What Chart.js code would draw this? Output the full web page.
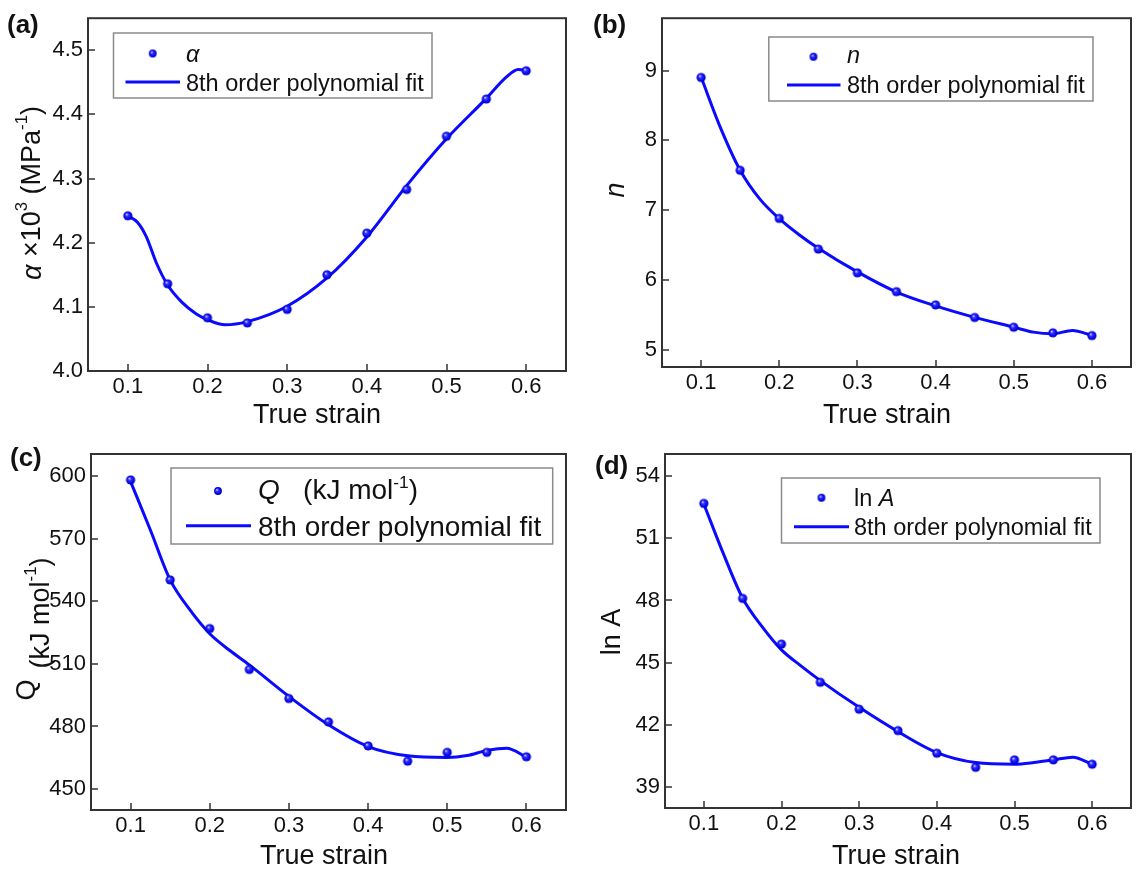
<!DOCTYPE html>
<html>
<head>
<meta charset="utf-8">
<script src="https://cdn.jsdelivr.net/npm/chart.js@4.4.0/dist/chart.umd.min.js"></script>
<style>
  body { margin: 0; background: #fff; }
  #wrap { position: relative; width: 1137px; height: 869px; }
  canvas { position: absolute; }
</style>
</head>
<body>
<div id="wrap">
  <canvas id="chartA" width="572" height="430" style="left:0;top:0"></canvas>
  <canvas id="chartB" width="565" height="430" style="left:572px;top:0"></canvas>
  <canvas id="chartC" width="572" height="439" style="left:0;top:430px"></canvas>
  <canvas id="chartD" width="565" height="439" style="left:572px;top:430px"></canvas>
</div>
<script>
// measured points
const strain = [0.1, 0.15, 0.2, 0.25, 0.3, 0.35, 0.4, 0.45, 0.5, 0.55, 0.6];
const alphaPts = [4.242, 4.136, 4.083, 4.075, 4.096, 4.150, 4.215, 4.283, 4.366, 4.424, 4.468];
const nPts = [8.90, 7.57, 6.88, 6.44, 6.10, 5.83, 5.64, 5.46, 5.32, 5.24, 5.20];
const qPts = [598.1, 550.2, 526.9, 507.3, 493.4, 482.2, 470.7, 463.4, 467.6, 467.6, 465.5];
const lnAPts = [52.68, 48.1, 45.9, 44.06, 42.76, 41.73, 40.64, 39.96, 40.32, 40.32, 40.11];

// fit curves
const fitStrain = [0.1, 0.125, 0.15, 0.175, 0.2, 0.225, 0.25, 0.3, 0.35, 0.4, 0.45, 0.5, 0.525, 0.55, 0.575, 0.6];
const nFit = [8.906, 8.175, 7.571, 7.16, 6.877, 6.65, 6.453, 6.113, 5.825, 5.627, 5.462, 5.321, 5.25, 5.226, 5.274, 5.203];
const qFit = [597.3, 574.1, 550.2, 535.8, 524.4, 516.5, 509.5, 494.4, 480.8, 470.4, 466.0, 465.2, 466.1, 468.5, 469.6, 465.3];
const lnAFit = [52.65, 50.27, 48.11, 46.74, 45.62, 44.85, 44.14, 42.85, 41.68, 40.67, 40.19, 40.11, 40.19, 40.32, 40.45, 40.11];
// panel (a) needs a few more points near the start
const alphaFitStrain = [0.1, 0.112, 0.123, 0.136, 0.15, 0.168, 0.186, 0.2, 0.222, 0.25, 0.3, 0.35, 0.4, 0.45, 0.5, 0.55, 0.575, 0.59, 0.6];
const alphaFit = [4.242, 4.232, 4.210, 4.168, 4.134, 4.107, 4.089, 4.080, 4.072, 4.077, 4.101, 4.145, 4.209, 4.289, 4.362, 4.425, 4.458, 4.470, 4.469];

// tick labels
const xTicks = [0.1, 0.2, 0.3, 0.4, 0.5, 0.6];
const alphaTicks = [4.0, 4.1, 4.2, 4.3, 4.4, 4.5];
const nTicks = [5, 6, 7, 8, 9];
const qTicks = [450, 480, 510, 540, 570, 600];
const lnATicks = [39, 42, 45, 48, 51, 54];

const FONT = '"Liberation Sans", Arial, sans-serif';
const BLUE = '#0a0aff';

function makeBall(r) {
    const c = document.createElement('canvas');
    const s = Math.ceil(r * 2) + 2;
    c.width = c.height = s;
    const g = c.getContext('2d');
    const cx = s / 2, cy = s / 2;
    const grad = g.createRadialGradient(cx - r * 0.3, cy - r * 0.35, 0, cx, cy, r);
    grad.addColorStop(0, '#eeeeff');
    grad.addColorStop(0.35, '#3535ff');
    grad.addColorStop(0.8, '#0000f0');
    grad.addColorStop(1, '#0000a0');
    g.fillStyle = grad;
    g.beginPath();
    g.arc(cx, cy, r, 0, Math.PI * 2);
    g.fill();
    return c;
}
const ball = makeBall(4.6);
const smallBall = makeBall(3.9);

// draw text pieces: '' normal, 'i' italic, 's' superscript, 'b' bold
function drawRuns(ctx, parts, x, y, size, align) {
    let w = 0;
    const items = parts.map(([t, st]) => {
        const fs = st === 's' ? size * 0.62 : size;
        const font = (st === 'i' ? 'italic ' : st === 'b' ? 'bold ' : '') + fs + 'px ' + FONT;
        ctx.font = font;
        const tw = ctx.measureText(t).width;
        w += tw;
        return { t, font, tw, dy: st === 's' ? -size * 0.4 : 0 };
    });
    let cx = align === 'center' ? x - w / 2 : x;
    items.forEach(it => {
        ctx.font = it.font;
        ctx.fillText(it.t, cx, y + it.dy);
        cx += it.tw;
    });
}

const decor = {
    id: 'decor',
    afterDraw(chart, args, o) {
        const ctx = chart.ctx, a = chart.chartArea;
        const xs = chart.scales.x, ys = chart.scales.y;
        ctx.save();
        ctx.strokeStyle = '#333';
        ctx.lineWidth = 2;
        ctx.strokeRect(a.left, a.top, a.right - a.left, a.bottom - a.top);
        ctx.lineWidth = 1.5;
        ctx.beginPath();
        xTicks.forEach(v => {
            const px = Math.round(xs.getPixelForValue(v));
            ctx.moveTo(px, a.bottom);
            ctx.lineTo(px, a.bottom - 7);
        });
        o.yTicks.forEach(v => {
            const py = Math.round(ys.getPixelForValue(v));
            ctx.moveTo(a.left, py);
            ctx.lineTo(a.left + 7, py);
        });
        ctx.stroke();

        // legend
        const L = o.legend;
        ctx.fillStyle = '#fff';
        ctx.fillRect(L.box[0], L.box[1], L.box[2], L.box[3]);
        ctx.strokeStyle = '#8a8a8a';
        ctx.lineWidth = 1.5;
        ctx.strokeRect(L.box[0], L.box[1], L.box[2], L.box[3]);
        ctx.drawImage(smallBall, L.marker[0] - smallBall.width / 2, L.marker[1] - smallBall.height / 2);
        ctx.strokeStyle = BLUE;
        ctx.lineWidth = 3;
        ctx.beginPath();
        ctx.moveTo(L.line[0], L.line[2]);
        ctx.lineTo(L.line[1], L.line[2]);
        ctx.stroke();
        ctx.fillStyle = '#111';
        ctx.textBaseline = 'alphabetic';
        ctx.textAlign = 'left';
        drawRuns(ctx, L.text1, L.t1[0], L.t1[1], L.size, 'left');
        drawRuns(ctx, [['8th order polynomial fit', '']], L.t2[0], L.t2[1], L.size, 'left');

        // panel label
        drawRuns(ctx, [[o.label.text, 'b']], o.label.x, o.label.y, 26, 'left');

        // x title
        drawRuns(ctx, [['True strain', '']], o.xTitle[0], o.xTitle[1], 27, 'center');

        // y titles (rotated)
        ctx.textBaseline = 'middle';
        o.yTitles.forEach(t => {
            ctx.save();
            ctx.translate(t.x, t.y);
            ctx.rotate(-Math.PI / 2);
            drawRuns(ctx, t.parts, 0, 0, 27, 'center');
            ctx.restore();
        });
        ctx.restore();
    }
};

function pairs(xs, ys) {
    return xs.map((x, i) => ({ x, y: ys[i] }));
}

function makePanel(p) {
    new Chart(document.getElementById(p.canvas), {
        type: 'line',
        data: {
            datasets: [
                {
                    data: pairs(p.fitX, p.fit),
                    borderColor: BLUE,
                    borderWidth: 3,
                    pointRadius: 0,
                    cubicInterpolationMode: 'monotone',
                    order: 2
                },
                {
                    data: pairs(strain, p.pts),
                    showLine: false,
                    pointStyle: ball,
                    pointRadius: 5,
                    order: 1
                }
            ]
        },
        options: {
            responsive: false,
            animation: false,
            layout: { padding: { top: p.pad[0], right: p.pad[1], left: 0, bottom: 0 } },
            plugins: {
                legend: { display: false },
                tooltip: { enabled: false },
                decor: p
            },
            scales: {
                x: {
                    type: 'linear',
                    min: 0.05,
                    max: 0.65,
                    grid: { display: false, drawTicks: false },
                    border: { display: false },
                    ticks: {
                        padding: 3,
                        autoSkip: false,
                        maxRotation: 0,
                        color: '#111',
                        font: { size: 22, family: FONT },
                        callback: v => v.toFixed(1)
                    },
                    afterBuildTicks: s => { s.ticks = xTicks.map(v => ({ value: v })); },
                    afterFit: s => { s.height = p.xH; }
                },
                y: {
                    type: 'linear',
                    min: p.yMin,
                    max: p.yMax,
                    grid: { display: false, drawTicks: false },
                    border: { display: false },
                    ticks: {
                        padding: 5,
                        autoSkip: false,
                        color: '#111',
                        font: { size: 22, family: FONT },
                        callback: v => v.toFixed(p.dec)
                    },
                    afterBuildTicks: s => { s.ticks = p.yTicks.map(v => ({ value: v })); },
                    afterFit: s => { s.width = p.yW; }
                }
            }
        },
        plugins: [decor]
    });
}

makePanel({
    canvas: 'chartA', pts: alphaPts, fitX: alphaFitStrain, fit: alphaFit, yTicks: alphaTicks,
    yMin: 4.0, yMax: 4.55, dec: 1, yW: 88, xH: 59, pad: [14, 4],
    label: { text: '(a)', x: 7, y: 33 },
    xTitle: [317, 423],
    yTitles: [{ x: 33, y: 193, parts: [['α', 'i'], [' ×10', ''], ['3', 's'], [' (MPa', ''], ['-1', 's'], [')', '']] }],
    legend: {
        box: [113.5, 33, 318.5, 65], marker: [152.7, 53.5], line: [125.5, 180, 82],
        t1: [186, 61.5], text1: [['α', 'i']], t2: [186, 90.5], size: 23.5
    }
});

makePanel({
    canvas: 'chartB', pts: nPts, fitX: fitStrain, fit: nFit, yTicks: nTicks,
    yMin: 4.75, yMax: 9.75, dec: 0, yW: 90, xH: 63, pad: [14, 1],
    label: { text: '(b)', x: 21, y: 33 },
    xTitle: [315, 423],
    yTitles: [{ x: 44, y: 190, parts: [['n', 'i']] }],
    legend: {
        box: [196.8, 37, 324.2, 64], marker: [241.5, 56.7], line: [215, 268.5, 85],
        t1: [275, 63], text1: [['n', 'i']], t2: [275, 93.3], size: 23.5
    }
});

makePanel({
    canvas: 'chartC', pts: qPts, fitX: fitStrain, fit: qFit, yTicks: qTicks,
    yMin: 440, yMax: 610.5, dec: 0, yW: 91, xH: 59, pad: [24, 3],
    label: { text: '(c)', x: 10, y: 36 },
    xTitle: [324, 434],
    yTitles: [
        { x: 28, y: 260, parts: [['Q', '']] },
        { x: 42, y: 183, parts: [['(kJ mol', ''], ['-1', 's'], [')', '']] }
    ],
    legend: {
        box: [171, 38, 381.7, 76], marker: [218, 61], line: [186, 251, 95.7],
        t1: [258, 69], text1: [['Q', 'i'], ['   (kJ mol', ''], ['-1', 's'], [')', '']], t2: [258, 105.5], size: 28
    }
});

makePanel({
    canvas: 'chartD', pts: lnAPts, fitX: fitStrain, fit: lnAFit, yTicks: lnATicks,
    yMin: 38, yMax: 55.06, dec: 0, yW: 93, xH: 61, pad: [24, 1],
    label: { text: '(d)', x: 23, y: 44 },
    xTitle: [324, 434],
    yTitles: [{ x: 40.5, y: 202, parts: [['ln A', '']] }],
    legend: {
        box: [209.5, 48, 318.5, 65], marker: [249.5, 67.7], line: [222, 277, 96.7],
        t1: [282, 76], text1: [['ln ', ''], ['A', 'i']], t2: [282, 105], size: 23.5
    }
});
</script>
</body>
</html>
